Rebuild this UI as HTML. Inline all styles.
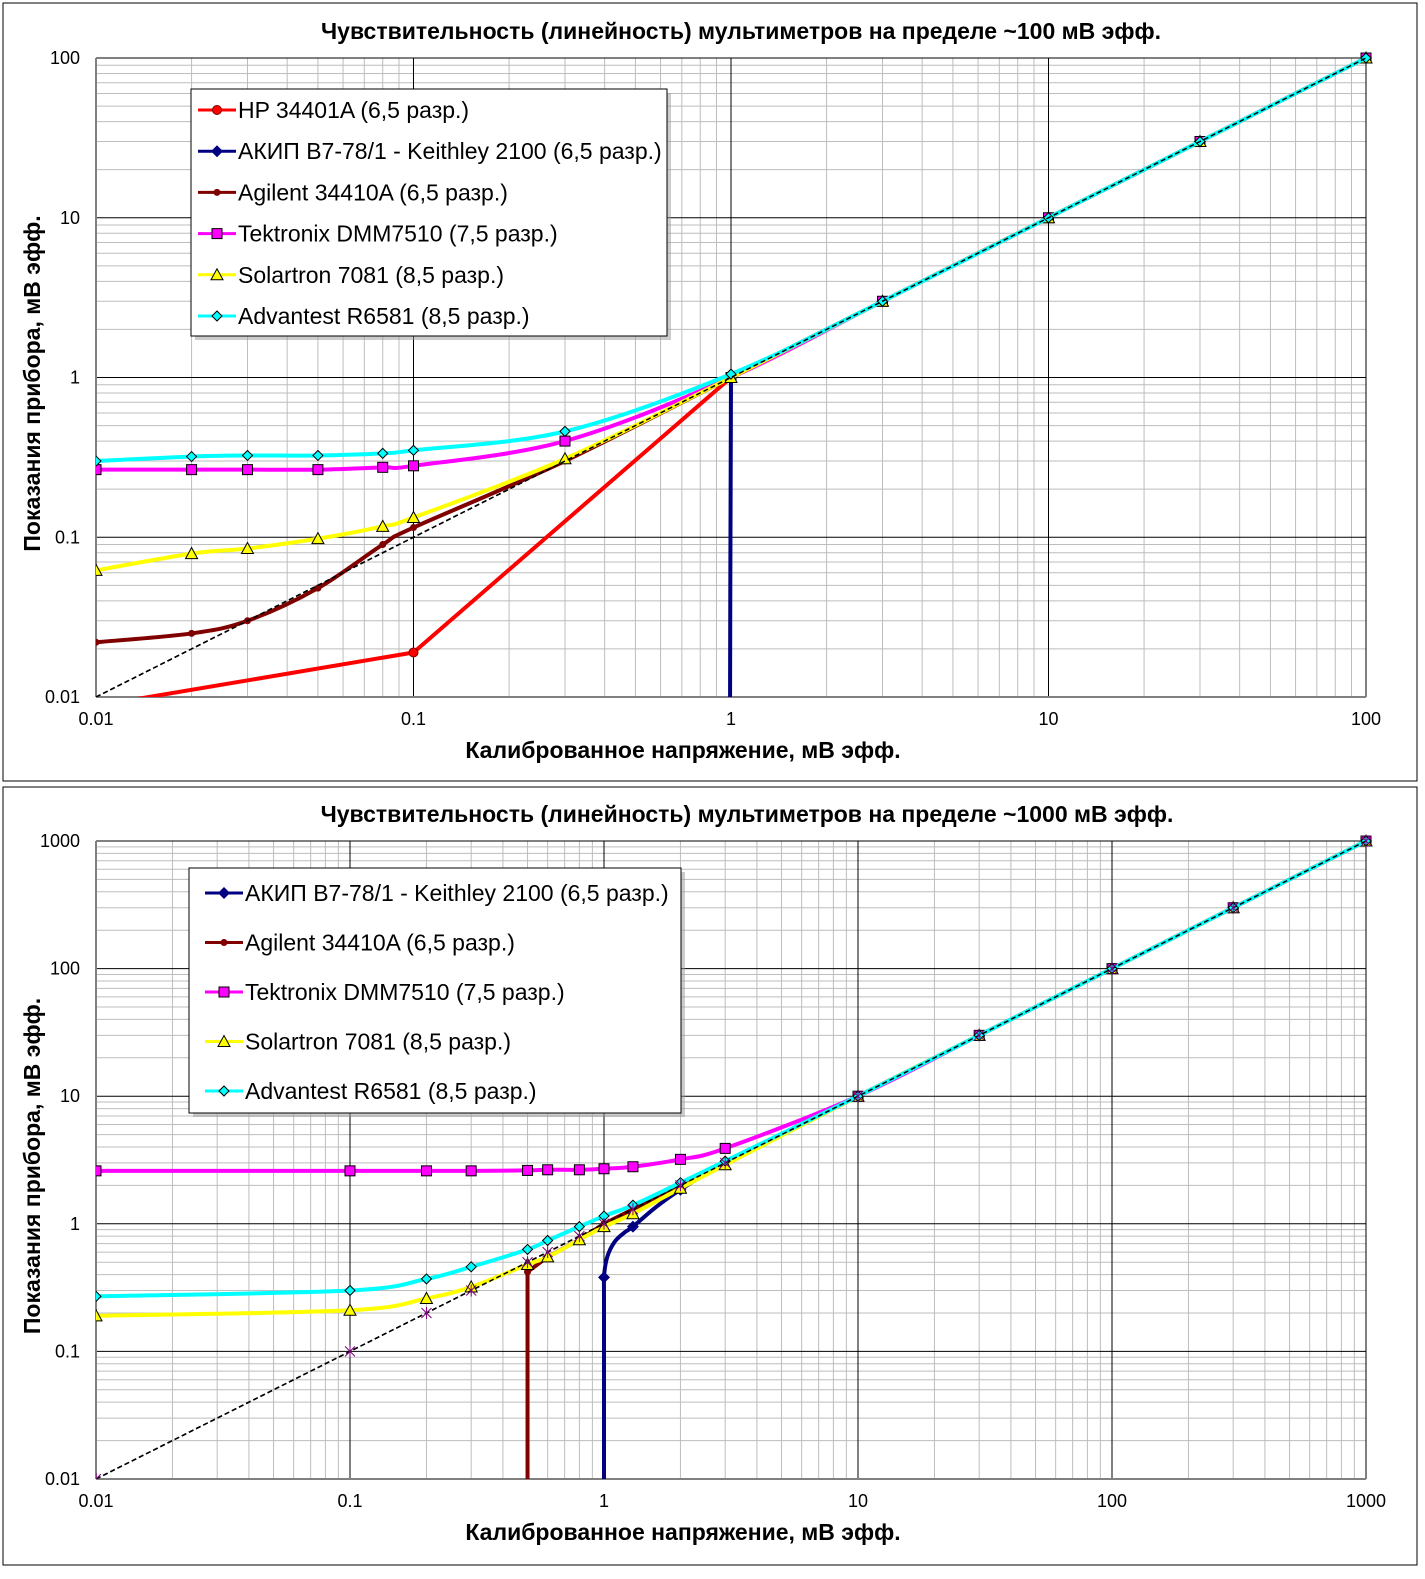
<!DOCTYPE html>
<html><head><meta charset="utf-8"><style>
body{margin:0;background:#fff;}
svg text{font-family:"Liberation Sans","DejaVu Sans",sans-serif;}
</style></head><body>
<svg id="s" width="1425" height="1574" xmlns="http://www.w3.org/2000/svg"></svg>
<script>
const S=document.getElementById('s');let h='';
function L10(v){return Math.log10(v);}
function chart(c){
 const X=v=>c.x0+(L10(v)-L10(c.xmin))*c.xd, Y=v=>c.y1-(L10(v)-L10(c.ymin))*c.yd;
 h+=`<rect x="${c.fx}" y="${c.fy}" width="${c.fw}" height="${c.fh}" fill="#fff" stroke="#000" stroke-width="1"/>`;
 for(let e=L10(c.xmin);e<L10(c.xmax);e++)for(let k=2;k<10;k++){const x=X(k*10**e);h+=`<line x1="${x}" y1="${Y(c.ymax)}" x2="${x}" y2="${c.y1}" stroke="#bdbdbd"/>`;}
 for(let e=L10(c.ymin);e<L10(c.ymax);e++)for(let k=2;k<10;k++){const y=Y(k*10**e);h+=`<line x1="${c.x0}" y1="${y}" x2="${X(c.xmax)}" y2="${y}" stroke="#bdbdbd"/>`;}
 for(let e=L10(c.xmin);e<=L10(c.xmax);e++){const x=X(10**e);h+=`<line x1="${x}" y1="${Y(c.ymax)}" x2="${x}" y2="${c.y1}" stroke="#000"/>`;
  h+=`<text x="${x}" y="${c.y1+28}" font-size="18" text-anchor="middle">${c.fmt(10**e)}</text>`;}
 for(let e=L10(c.ymin);e<=L10(c.ymax);e++){const y=Y(10**e);h+=`<line x1="${c.x0}" y1="${y}" x2="${X(c.xmax)}" y2="${y}" stroke="#000"/>`;
  h+=`<text x="${c.x0-16}" y="${y+6}" font-size="18" text-anchor="end">${c.fmt(10**e)}</text>`;}
 h+=`<line x1="${c.x0}" y1="${Y(c.ymax)}" x2="${c.x0}" y2="${c.y1}" stroke="#808080" stroke-width="2"/>`;
 h+=`<line x1="${c.x0}" y1="${c.y1}" x2="${X(c.xmax)}" y2="${c.y1}" stroke="#808080" stroke-width="2"/>`;
 h+=`<defs><clipPath id="${c.id}"><rect x="${c.x0}" y="${Y(c.ymax)-8}" width="${X(c.xmax)-c.x0+8}" height="${c.y1-Y(c.ymax)+8}"/></clipPath></defs><g clip-path="url(#${c.id})">`;
 const ideal=`<line x1="${X(c.xmin)}" y1="${Y(c.xmin)}" x2="${X(c.xmax)}" y2="${Y(c.xmax)}" stroke="#000" stroke-width="1.5" stroke-dasharray="5,3"/>`;
 h+=ideal;
 for(const s of c.series){
  const P=s.d.map(p=>[X(p[0]),Y(p[1])]);
  let d=`M${P[0][0]} ${P[0][1]}`;
  for(let i=0;i<P.length-1;i++){const p0=P[i-1]||P[i],p1=P[i],p2=P[i+1],p3=P[i+2]||p2;
   const t=s.sharp?0:1/6;
   d+=`C${p1[0]+(p2[0]-p0[0])*t} ${p1[1]+(p2[1]-p0[1])*t} ${p2[0]-(p3[0]-p1[0])*t} ${p2[1]-(p3[1]-p1[1])*t} ${p2[0]} ${p2[1]}`;}
  h+=`<path d="${d}" fill="none" stroke="${s.c}" stroke-width="${s.w||4}" stroke-linejoin="round"/>`;
  P.forEach((p,i)=>{if(s.skip&&s.skip.includes(i))return;h+=mk(s.m,p[0],p[1],s.c);});
 }
 h+=ideal;
 if(c.stars)for(const v of c.stars){const x=X(v),y=Y(v);h+=`<path d="M${x-5} ${y-5}L${x+5} ${y+5}M${x-5} ${y+5}L${x+5} ${y-5}M${x} ${y-6}L${x} ${y+6}" stroke="#800080" stroke-width="1"/>`;}
 h+='</g>';
 const g=c.leg;
 h+=`<rect x="${g.x+4}" y="${g.y+4}" width="${g.w}" height="${g.h}" fill="#999" opacity="0.5"/><rect x="${g.x}" y="${g.y}" width="${g.w}" height="${g.h}" fill="#fff" stroke="#000"/>`;
 g.items.forEach((s,i)=>{const y=g.y0+i*g.dy;h+=`<line x1="${g.lx}" y1="${y}" x2="${g.lx+38}" y2="${y}" stroke="${s.c}" stroke-width="${s.w||3}"/>`+mk(s.m,g.lx+19,y,s.c)+`<text x="${g.lx+40}" y="${y+8}" font-size="23">${s.n}</text>`;});
 h+=`<text x="${c.tx}" y="${c.ty}" font-size="23" font-weight="bold" text-anchor="middle">${c.title}</text>`;
 h+=`<text x="683" y="${c.y1+61}" font-size="23" font-weight="bold" text-anchor="middle">Калиброванное напряжение, мВ эфф.</text>`;
 const yc=(Y(c.ymax)+c.y1)/2+6;
 h+=`<text transform="translate(40,${yc}) rotate(-90)" font-size="23" font-weight="bold" text-anchor="middle">Показания прибора, мВ эфф.</text>`;
}
function mk(m,x,y,c){
 if(m=='o')return `<circle cx="${x}" cy="${y}" r="4.5" fill="${c}" stroke="#800000" stroke-width="1"/>`;
 if(m=='.')return `<circle cx="${x}" cy="${y}" r="3.5" fill="${c}"/>`;
 if(m=='D')return `<path d="M${x-6} ${y}L${x} ${y-6}L${x+6} ${y}L${x} ${y+6}Z" fill="${c}"/>`;
 if(m=='s')return `<rect x="${x-5}" y="${y-5}" width="10" height="10" fill="${c}" stroke="#000" stroke-width="1"/>`;
 if(m=='t')return `<path d="M${x-6} ${y+5}L${x} ${y-6}L${x+6} ${y+5}Z" fill="${c}" stroke="#000" stroke-width="1"/>`;
 if(m=='d')return `<path d="M${x-5} ${y}L${x} ${y-5}L${x+5} ${y}L${x} ${y+5}Z" fill="${c}" stroke="#000" stroke-width="1"/>`;
 return '';
}
const f=v=>v<1?String(+v.toFixed(2)):String(Math.round(v));
const hi=[[3,3],[10,10],[30,30],[100,100]];
const HP={n:'HP 34401A (6,5 разр.)',c:'#ff0000',m:'o',d:[[0.01,0.0088],[0.1,0.019],[1,1]],sharp:1};
const AK={n:'АКИП В7-78/1 - Keithley 2100 (6,5 разр.)',c:'#000080',m:'D',d:[[0.99,0.0005],[0.995,0.05],[1,1],...hi],skip:[0,1],sharp:1};
const AG={n:'Agilent 34410A (6,5 разр.)',c:'#800000',m:'.',d:[[0.01,0.022],[0.02,0.025],[0.03,0.03],[0.05,0.048],[0.08,0.09],[0.1,0.115],[0.3,0.3],[1,1],...hi]};
const TK={n:'Tektronix DMM7510 (7,5 разр.)',c:'#ff00ff',m:'s',d:[[0.01,0.265],[0.02,0.265],[0.03,0.265],[0.05,0.265],[0.08,0.274],[0.1,0.28],[0.3,0.4],[1,1.0],...hi]};
const SO={n:'Solartron 7081 (8,5 разр.)',c:'#ffff00',m:'t',d:[[0.01,0.062],[0.02,0.079],[0.03,0.085],[0.05,0.098],[0.08,0.117],[0.1,0.133],[0.3,0.31],[1,1.0],...hi]};
const AD={n:'Advantest R6581 (8,5 разр.)',c:'#00ffff',m:'d',d:[[0.01,0.30],[0.02,0.32],[0.03,0.325],[0.05,0.325],[0.08,0.335],[0.1,0.35],[0.3,0.46],[1,1.05],...hi]};
chart({id:'c1',fx:3,fy:3,fw:1414,fh:778,x0:96,y1:697,xmin:0.01,xmax:100,ymin:0.01,ymax:100,xd:317.5,yd:159.75,fmt:f,
 series:[AK,HP,AG,TK,SO,AD],title:'Чувствительность (линейность) мультиметров на пределе ~100 мВ эфф.',tx:741,ty:39,
 leg:{x:191,y:89,w:476,h:247,lx:198,y0:110,dy:41.2,items:[HP,AK,AG,TK,SO,AD]}});
const hi2=[[10,10],[30,30],[100,100],[300,300],[1000,1000]];
const AK2={...AK,d:[[1,0.0005],[1,0.2],[1,0.38],[1.03,0.55],[1.1,0.72],[1.2,0.85],[1.3,0.95],[1.6,1.35],[2,1.85],[3,3],...hi2],skip:[0,1,3,4,5,7],sharp:0};
const AG2={...AG,d:[[0.5,0.0005],[0.5,0.42],[0.6,0.55],[0.8,0.75],[1,1],[3,3],...hi2],skip:[0],sharp:1};
const TK2={...TK,d:[[0.01,2.6],[0.1,2.6],[0.2,2.6],[0.3,2.6],[0.5,2.62],[0.6,2.65],[0.8,2.65],[1,2.7],[1.3,2.8],[2,3.2],[3,3.9],...hi2]};
const SO2={...SO,d:[[0.01,0.19],[0.1,0.21],[0.2,0.26],[0.3,0.32],[0.5,0.48],[0.6,0.55],[0.8,0.75],[1,0.95],[1.3,1.2],[2,1.9],[3,2.9],...hi2]};
const AD2={...AD,d:[[0.01,0.27],[0.1,0.3],[0.2,0.37],[0.3,0.46],[0.5,0.63],[0.6,0.74],[0.8,0.95],[1,1.15],[1.3,1.4],[2,2.1],[3,3.1],...hi2]};
chart({id:'c2',fx:3,fy:787,fw:1414,fh:778,x0:96,y1:1479,xmin:0.01,xmax:1000,ymin:0.01,ymax:1000,xd:254,yd:127.6,fmt:f,
 stars:[0.01,0.1,0.2,0.3,0.5,0.6,0.8,1,1.3,2,3,10,30,100,300,1000],
 series:[AK2,AG2,TK2,SO2,AD2],title:'Чувствительность (линейность) мультиметров на пределе ~1000 мВ эфф.',tx:747,ty:822,
 leg:{x:189,y:868,w:492,h:245,lx:205,y0:893,dy:49.5,items:[AK2,AG2,TK2,SO2,AD2]}});
S.innerHTML=h;
</script>
</body></html>
